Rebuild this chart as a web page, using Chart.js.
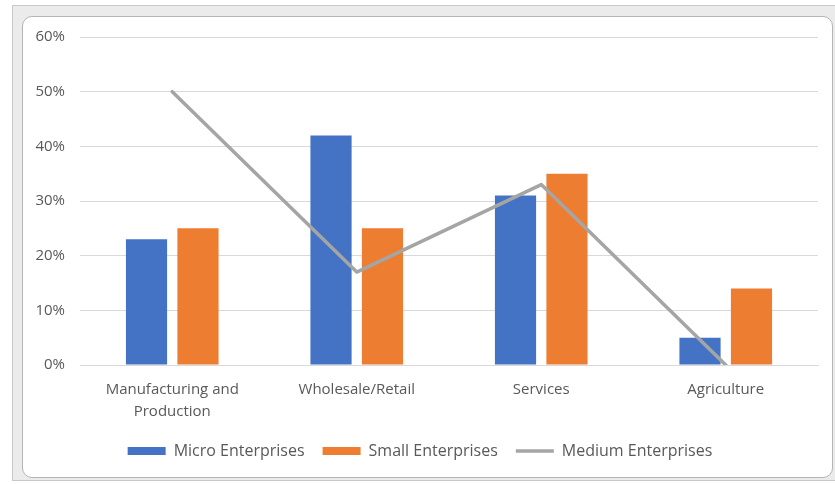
<!DOCTYPE html>
<html>
<head>
<meta charset="utf-8">
<script src="https://cdn.jsdelivr.net/npm/chart.js@4.4.1/dist/chart.umd.min.js"></script>
<style>
  html, body { margin: 0; padding: 0; background: #fff; overflow: hidden; }
  #frame {
    position: absolute; left: 12px; top: 5px; width: 840px; height: 476px;
    background: #ebebeb; border: 1px solid #c9c9c9; box-sizing: border-box;
  }
  #card {
    position: absolute; left: 22px; top: 16px; width: 811px; height: 462px;
    background: #fff; border: 1px solid #b5b5b5; border-radius: 10px; box-sizing: border-box;
  }
  #wrap { position: absolute; left: 22px; top: 13px; width: 811px; height: 465px; }
</style>
</head>
<body>
<div id="frame"></div>
<div id="card"></div>
<div id="wrap"><canvas id="grafik"></canvas></div>
<script>
document.addEventListener("DOMContentLoaded", () => {

  // --- data ---
  const kategoriler = [["Manufacturing and", "Production"], "Wholesale/Retail", "Services", "Agriculture"];
  const microVals  = [23, 42, 31, 5];
  const smallVals  = [25, 25, 35, 14];
  const mediumVals = [50, 17, 33, 0];
  const yTicks = [0, 10, 20, 30, 40, 50, 60];

  const yazi = "'Open Sans', 'Noto Sans', sans-serif";
  const gri = '#595959';

  const ctx = document.getElementById('grafik').getContext('2d');

  new Chart(ctx, {
    data: {
      labels: kategoriler,
      datasets: [
        {
          type: 'bar',
          label: 'Micro Enterprises',
          data: microVals,
          backgroundColor: '#4472C4',
          categoryPercentage: 0.558,
          barPercentage: 0.8,
          order: 2
        },
        {
          type: 'bar',
          label: 'Small Enterprises',
          data: smallVals,
          backgroundColor: '#ED7D31',
          categoryPercentage: 0.558,
          barPercentage: 0.8,
          order: 2
        },
        {
          type: 'line',
          label: 'Medium Enterprises',
          data: mediumVals,
          borderColor: '#A5A5A5',
          backgroundColor: '#A5A5A5',
          borderWidth: 3.5,
          pointRadius: 0,
          tension: 0,
          borderCapStyle: 'round',
          borderJoinStyle: 'round',
          order: 1
        }
      ]
    },
    options: {
      responsive: true,
      maintainAspectRatio: false,
      animation: false,
      layout: { padding: { left: 0, right: 15, top: 7, bottom: 9 } },
      plugins: {
        tooltip: { enabled: false },
        legend: {
          position: 'bottom',
          labels: {
            font: { family: yazi, size: 16 },
            color: gri,
            usePointStyle: true,
            pointStyleWidth: 38,
            boxHeight: 8,
            padding: 18,
            generateLabels: (chart) => chart.data.datasets.map((ds, i) => ({
              text: ds.label,
              fillStyle: ds.type === 'line' ? 'rgba(0,0,0,0)' : ds.backgroundColor,
              strokeStyle: ds.type === 'line' ? ds.borderColor : ds.backgroundColor,
              lineWidth: ds.type === 'line' ? 3.5 : 0,
              pointStyle: ds.type === 'line' ? 'line' : 'rect',
              fontColor: gri,
              datasetIndex: i,
              hidden: false
            }))
          }
        }
      },
      scales: {
        x: {
          grid: { display: false },
          border: { color: '#d9d9d9', width: 1 },
          ticks: {
            color: gri,
            font: { family: yazi, size: 15, lineHeight: 1.47 },
            padding: 6,
            maxRotation: 0
          },
          afterFit: (s) => { s.height = 60; }
        },
        y: {
          min: 0,
          max: 60,
          afterBuildTicks: (s) => { s.ticks = yTicks.map(v => ({ value: v })); },
          grid: { color: '#d9d9d9', drawTicks: false },
          border: { display: false },
          ticks: {
            color: gri,
            font: { family: yazi, size: 15 },
            padding: 15,
            callback: (v) => v + '%'
          },
          afterFit: (s) => { s.width = 58; }
        }
      }
    }
  });

});
</script>
</body>
</html>
